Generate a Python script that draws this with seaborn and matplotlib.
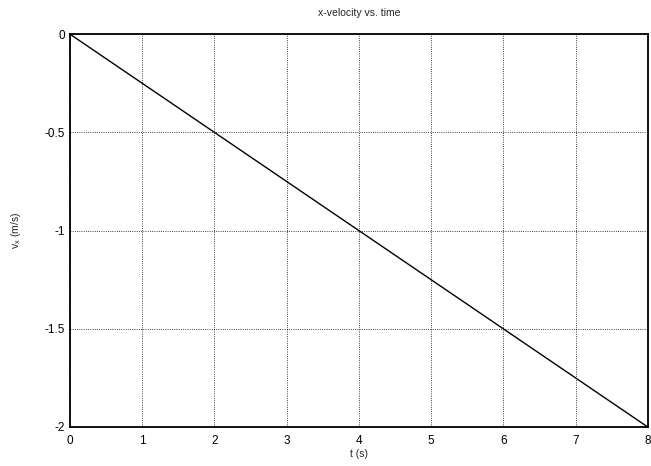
import matplotlib
matplotlib.use("Agg")
import matplotlib.pyplot as plt
import seaborn as sns
import pandas as pd

# data
t = [0, 1, 2, 3, 4, 5, 6, 7, 8]
vx = [0, -0.25, -0.5, -0.75, -1.0, -1.25, -1.5, -1.75, -2.0]
xticks = [0, 1, 2, 3, 4, 5, 6, 7, 8]
yticks = [0, -0.5, -1, -1.5, -2]
ytick_labels = ["0", "-0.5", "-1", "-1.5", "-2"]

sns.set_style("white")
plt.rcParams['font.family'] = ['Liberation Sans', 'DejaVu Sans']

df = pd.DataFrame({'t': t, 'vx': vx})

fig = plt.figure(figsize=(6.51, 4.66), dpi=100)
ax = fig.add_axes([0.1075, 0.0837, 0.8875, 0.843])
sns.lineplot(data=df, x='t', y='vx', ax=ax, color='black', linewidth=1.0)

ax.set_xlim(0, 8)
ax.set_ylim(-2, 0)
ax.set_xticks(xticks)
ax.set_xticklabels([str(v) for v in xticks])
ax.set_yticks(yticks)
ax.set_yticklabels(ytick_labels)
ax.tick_params(axis='both', direction='in', length=4, width=1, labelsize=8.5, colors='black')
ax.tick_params(axis='x', pad=6)
ax.grid(True, linestyle=':', color='black', linewidth=0.6)

for s in ax.spines.values():
    s.set_color('black')
    s.set_linewidth(1.3)

ax.set_title('x-velocity vs. time', fontsize=7.5, pad=13)
ax.set_xlabel('t (s)', fontsize=7.5, labelpad=1)
ax.set_ylabel('$\\mathregular{v_x}$ (m/s)', fontsize=7.5, labelpad=16)

fig.savefig('out.png', dpi=100)
